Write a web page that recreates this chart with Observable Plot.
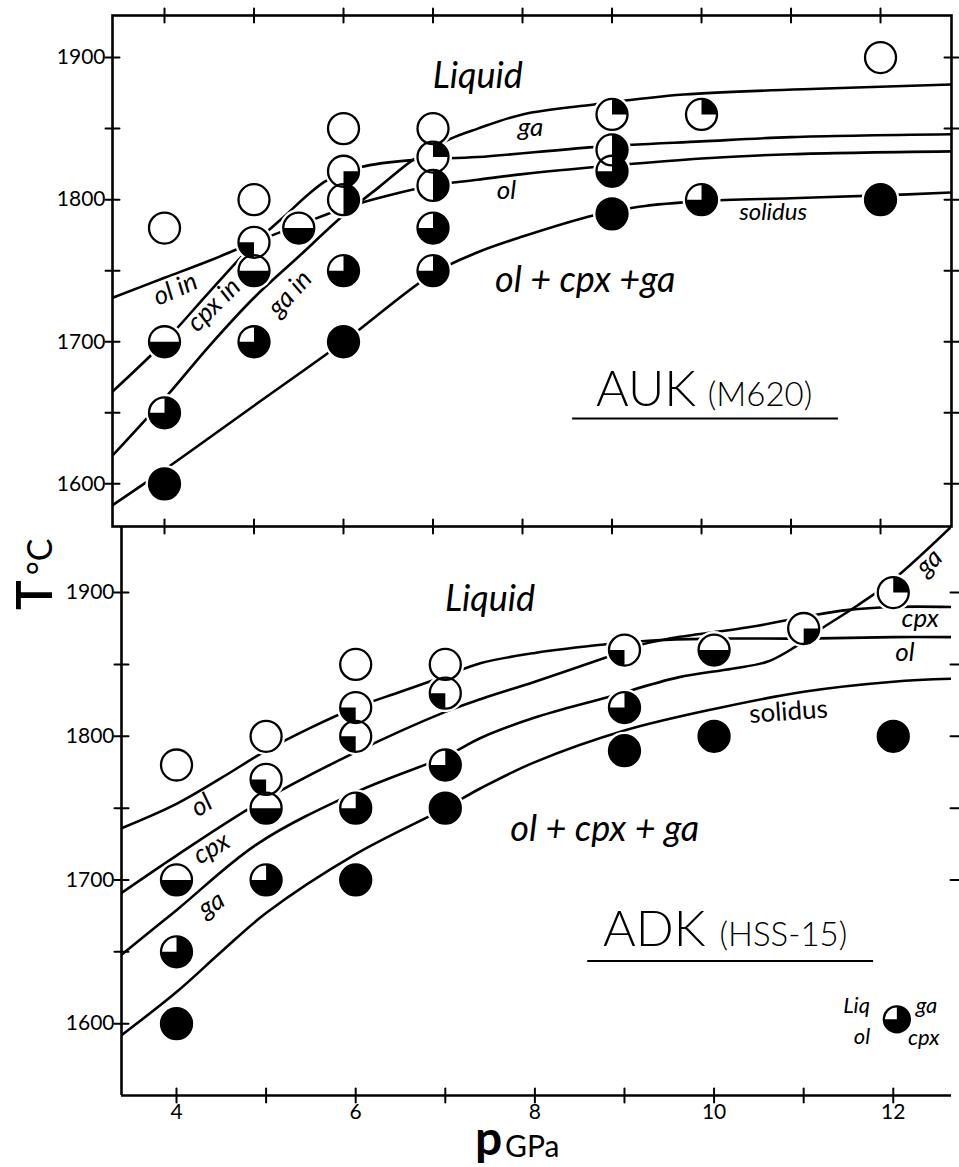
<!DOCTYPE html>
<html>
<head>
<meta charset="utf-8">
<script src="https://cdn.jsdelivr.net/npm/d3@7"></script>
<script src="https://cdn.jsdelivr.net/npm/@observablehq/plot@0.6"></script>
<style>
  html, body { margin: 0; padding: 0; background: #fff; }
  #wrap { position: relative; width: 959px; height: 1167px; overflow: hidden; background: #fff; }
  #top, #bot, #over { position: absolute; left: 0; }
  #top { top: 0; }
  #bot { top: 526px; }
  #over { top: 0; pointer-events: none; }
</style>
</head>
<body>
<div id="wrap">
  <div id="bot"></div>
  <div id="top"></div>
  <svg id="over" width="959" height="1167" font-family="Lato, 'DejaVu Sans', sans-serif">
    <text transform="translate(52,610) rotate(-90)"><tspan font-size="50" font-weight="600">T</tspan><tspan font-size="34" dx="5">°C</tspan></text>
    <text x="475" y="1155" font-size="48" font-weight="700">p</text>
    <text x="505" y="1157" font-size="30">GPa</text>
  </svg>
</div>
<script>
// ---------------- data ----------------
const pressureTicks = [4, 5, 6, 7, 8, 9, 10, 11, 12];
const pressureLabels = [4, 6, 8, 10, 12];
const tempTicks = [1600, 1650, 1700, 1750, 1800, 1850, 1900];
const tempLabels = [1600, 1700, 1800, 1900];

// AUK (M620) run products: pressure (GPa), temperature (°C), crystalline phases
const aukP = [4, 4, 4, 4, 5, 5, 5, 5, 5.5, 6, 6, 6, 6, 6, 7, 7, 7, 7, 7, 9, 9, 9, 9, 10, 10, 12, 12];
const aukT = [1780, 1700, 1650, 1600, 1800, 1770, 1750, 1700, 1780, 1850, 1820, 1800, 1750, 1700, 1850, 1830, 1810, 1780, 1750, 1860, 1835, 1820, 1790, 1860, 1800, 1900, 1800];
const aukPhases = ["liq", "ol+cpx", "ol+cpx+ga", "sub", "liq", "ol", "ol+cpx", "ol+cpx+ga", "ol+cpx",
  "liq", "cpx", "cpx+ga", "ol+cpx+ga", "sub", "liq", "ga", "cpx+ga", "ol+cpx+ga", "ol+cpx+ga",
  "ga", "cpx+ga", "ol+cpx+ga", "sub", "ga", "ol+cpx+ga", "liq", "sub"];

// AUK phase boundaries
const aukOlP = [3.42, 4.0, 4.5, 5.0, 5.5, 6.0, 6.5, 7.0, 7.5, 8.0, 9.0, 10.0, 11.0, 12.79];
const aukOlT = [1731, 1745, 1757, 1770, 1782, 1794, 1803, 1810, 1814, 1818, 1824, 1829, 1832, 1834];
const aukCpxP = [3.42, 4.0, 4.5, 5.0, 5.3, 5.8, 6.2, 6.8, 7.5, 8.8, 10.0, 11.0, 12.79];
const aukCpxT = [1665, 1700, 1735, 1769, 1786, 1813, 1823, 1828, 1830, 1837, 1841, 1844, 1846];
const aukGaP = [3.42, 4.0, 4.5, 5.0, 5.5, 6.0, 6.4, 6.8, 7.2, 7.5, 8.0, 8.8, 9.8, 11.3, 12.79];
const aukGaT = [1620, 1660, 1697, 1731, 1760, 1789, 1809, 1829, 1843, 1850, 1860, 1867, 1874, 1878, 1881];
const aukSolP = [3.42, 4.0, 5.0, 6.0, 7.0, 7.5, 8.0, 8.8, 9.3, 10.0, 11.0, 12.0, 12.79];
const aukSolT = [1585, 1610, 1655, 1700, 1748, 1763, 1774, 1789, 1795, 1799, 1801, 1803, 1805];

// ADK (HSS-15) run products
const adkP = [4, 4, 4, 4, 5, 5, 5, 5, 6, 6, 6, 6, 6, 7, 7, 7, 7, 9, 9, 9, 10, 10, 11, 12, 12];
const adkT = [1780, 1700, 1650, 1600, 1800, 1770, 1750, 1700, 1850, 1820, 1800, 1750, 1700, 1850, 1830, 1780, 1750, 1860, 1820, 1790, 1860, 1800, 1875, 1900, 1800];
const adkPhases = ["liq", "ol+cpx", "ol+cpx+ga", "sub", "liq", "ol", "ol+cpx", "ol+cpx+ga",
  "liq", "ol", "ol", "ol+cpx+ga", "sub", "liq", "ol", "ol+cpx+ga", "sub",
  "ol", "ol+cpx+ga", "sub", "ol+cpx", "sub", "cpx", "ga", "sub"];

// ADK phase boundaries
const adkOlP = [3.386, 4.0, 4.5, 5.0, 5.5, 6.0, 6.5, 7.0, 7.4, 8.0, 8.8, 9.4, 10.0, 11.0, 12.0, 12.65];
const adkOlT = [1736, 1753, 1771, 1790, 1806, 1820, 1831, 1842, 1851, 1858, 1864, 1867, 1868, 1868, 1869, 1869];
const adkCpxP = [3.386, 4.0, 4.9, 6.0, 7.0, 7.4, 8.0, 8.8, 9.2, 9.5, 10.4, 11.0, 11.5, 12.0, 12.65];
const adkCpxT = [1691, 1717, 1753, 1789, 1817, 1826, 1838, 1855, 1864, 1868, 1876, 1883, 1888, 1890, 1890];
const adkGaP = [3.386, 4.0, 4.9, 6.0, 7.0, 7.4, 8.0, 8.8, 9.6, 10.2, 10.6, 10.9, 11.2, 11.6, 12.0, 12.65];
const adkGaT = [1648, 1679, 1725, 1761, 1786, 1799, 1813, 1827, 1841, 1847, 1852, 1862, 1875, 1891, 1909, 1946];
const adkSolP = [3.386, 4.0, 4.5, 5.0, 6.0, 7.0, 7.4, 8.0, 9.0, 10.0, 11.0, 12.0, 12.65];
const adkSolT = [1592, 1622, 1650, 1677, 1718, 1750, 1764, 1782, 1804, 1819, 1831, 1838, 1840];

// legend key (Liq / ga / ol / cpx quarters)
const keyP = [12.04];
const keyT = [1603];
const keyPhases = ["ol+cpx+ga"];
const keyText = ["Liq", "ga", "ol", "cpx"];
const keyTextP = [11.59, 12.37, 11.65, 12.34];
const keyTextT = [1612, 1612, 1591, 1590];

// annotation texts (positions in data units)
const aukBigText = ["Liquid", "ol + cpx +ga"];
const aukBigP = [7.5, 8.7];
const aukBigT = [1887, 1743];
const aukSmallText = ["ga", "ol", "solidus", "ol in", "cpx in", "ga in"];
const aukSmallP = [8.09, 7.82, 10.8, 4.12, 4.55, 5.4];
const aukSmallT = [1851, 1806, 1791, 1737, 1726, 1734];
const aukSmallAngle = [0, 0, 0, -24, -45, -48];

const adkBigText = ["Liquid", "ol + cpx + ga"];
const adkBigP = [7.5, 8.78];
const adkBigT = [1895, 1735];
const adkSmallText = ["ol", "cpx", "ga", "ga", "cpx", "ol"];
const adkSmallP = [4.28, 4.39, 4.39, 12.4, 12.3, 12.13];
const adkSmallT = [1752, 1722, 1683, 1921, 1882, 1858];
const adkSmallAngle = [-32, -30, -33, -45, 0, 0];
const adkSolText = ["solidus"];
const adkSolP2 = [10.83];
const adkSolT2 = [1817];

// sample titles
const aukTitle = ["AUK", "(M620)"];
const aukTitleP = [8.82, 10.07];
const aukTitleT = 1655;
const aukRuleP = [8.56, 11.53];
const aukRuleT = 1646;
const adkTitle = ["ADK", "(HSS-15)"];
const adkTitleP = [8.76, 10.06];
const adkTitleT = 1654;
const adkRuleP = [8.59, 11.78];
const adkRuleT = 1643.6;

// ---------------- helpers ----------------
const FONT = "Lato, 'DejaVu Sans', sans-serif";
const LW = 2.6;

function table(P, T, Ph) { return P.map((p, i) => ({p, t: T[i], ph: Ph ? Ph[i] : null})); }

// black quarters: top-right = ga, bottom-left = ol, bottom-right = cpx; all black = below solidus
const quarterAngle = {ga: 1.5 * Math.PI, ol: 0.5 * Math.PI, cpx: 0};
function phaseSymbol(ph) {
  const full = ph === "sub";
  const angles = full ? [] : ph.split("+").filter(k => k in quarterAngle).map(k => quarterAngle[k]);
  return {
    draw(ctx, size) {
      const r = Math.sqrt(size / Math.PI);
      if (full) { ctx.moveTo(r, 0); ctx.arc(0, 0, r, 0, 2 * Math.PI); ctx.closePath(); return; }
      for (const a of angles) {
        ctx.moveTo(0, 0);
        ctx.lineTo(r * Math.cos(a), r * Math.sin(a));
        ctx.arc(0, 0, r, a, a + Math.PI / 2);
        ctx.closePath();
      }
    }
  };
}

function haloMarks(pts, r) {
  return Plot.dot(pts, {x: "p", y: "t", r: r + 3.5, fill: "white", stroke: "none"});
}
function dotMarks(pts, r) {
  const kinds = [...new Set(pts.map(d => d.ph))].filter(k => k !== "liq");
  return [
    Plot.dot(pts, {x: "p", y: "t", r, fill: "white", stroke: "none"}),
    ...kinds.map(k => Plot.dot(pts.filter(d => d.ph === k), {x: "p", y: "t", r, symbol: phaseSymbol(k), fill: "black", stroke: "none"})),
    Plot.dot(pts, {x: "p", y: "t", r, fill: "none", stroke: "black", strokeWidth: 2.3})
  ];
}

function curve(P, T) {
  return Plot.line(table(P, T), {x: "p", y: "t", curve: "catmull-rom", stroke: "black", strokeWidth: LW, clip: true});
}

const tickShape = {draw(ctx, l) { ctx.moveTo(0, 0); ctx.lineTo(0, -l); }};
function xTicks(anchor, len = 14) {
  return Plot.vectorX(pressureTicks, {x: d => d, frameAnchor: anchor, length: len, anchor: "middle", shape: tickShape, stroke: "black", strokeWidth: 2});
}
function yTicks(anchor, len = 14, dx = 0) {
  return Plot.vectorY(tempTicks, {y: d => d, frameAnchor: anchor, rotate: 90, length: len, anchor: "middle", shape: tickShape, stroke: "black", strokeWidth: 2, dx});
}
function yLabels() {
  return Plot.text(tempLabels, {y: d => d, frameAnchor: "left", textAnchor: "end", dx: -7, text: d => String(d), fontSize: 21, fontFamily: FONT});
}
function labels(T, P, Y, opts) {
  return Plot.text(T.map((_, i) => i), {x: i => P[i], y: i => Y[i], text: i => T[i], fontFamily: FONT, ...opts});
}

// ---------------- top panel: AUK ----------------
const aukXDomain = [3.419, 12.793];
const aukYDomain = [1570, 1929.6];
const aukPts = table(aukP, aukT, aukPhases);

const topPlot = Plot.plot({
  width: 959, height: 540,
  marginTop: 15, marginBottom: 14, marginLeft: 112, marginRight: 8,
  x: {domain: aukXDomain, axis: null},
  y: {domain: aukYDomain, axis: null},
  style: {overflow: "visible", background: "transparent", fontFamily: FONT},
  marks: [
    curve(aukOlP, aukOlT),
    curve(aukCpxP, aukCpxT),
    curve(aukGaP, aukGaT),
    curve(aukSolP, aukSolT),
    haloMarks(aukPts, 15.5),
    ...dotMarks(aukPts, 15.5),
    Plot.frame({stroke: "black", strokeWidth: LW}),
    xTicks("top"), xTicks("bottom"),
    yTicks("left"), yTicks("right"),
    yLabels(),
    labels(aukBigText, aukBigP, aukBigT, {fontSize: 36, fontStyle: "italic"}),
    labels(aukSmallText, aukSmallP, aukSmallT, {fontSize: i => aukSmallText[i] === "solidus" ? 24 : 26, fontStyle: "italic", rotate: i => aukSmallAngle[i]}),
    Plot.text([0], {x: aukTitleP[0], y: aukTitleT, text: () => aukTitle[0], textAnchor: "start", lineAnchor: "bottom", fontSize: 50, fontWeight: 300, fontFamily: FONT}),
    Plot.text([0], {x: aukTitleP[1], y: aukTitleT, text: () => aukTitle[1], textAnchor: "start", lineAnchor: "bottom", fontSize: 33, fontWeight: 300, fontFamily: FONT}),
    Plot.ruleY([aukRuleT], {x1: aukRuleP[0], x2: aukRuleP[1], stroke: "black", strokeWidth: 2.2})
  ]
});
document.getElementById("top").appendChild(topPlot);

// ---------------- bottom panel: ADK ----------------
const adkXDomain = [3.386, 12.65];
const adkYDomain = [1550, 1946];
const adkPts = table(adkP, adkT, adkPhases);
const keyPts = table(keyP, keyT, keyPhases);

const botPlot = Plot.plot({
  width: 959, height: 641,
  marginTop: 0, marginBottom: 72, marginLeft: 121, marginRight: 8,
  x: {domain: adkXDomain, axis: null},
  y: {domain: adkYDomain, axis: null},
  style: {overflow: "visible", background: "transparent", fontFamily: FONT},
  marks: [
    curve(adkOlP, adkOlT),
    curve(adkCpxP, adkCpxT),
    curve(adkGaP, adkGaT),
    curve(adkSolP, adkSolT),
    haloMarks(adkPts, 15.5),
    ...dotMarks(adkPts, 15.5),
    ...dotMarks(keyPts, 13),
    Plot.ruleX([adkXDomain[0]], {stroke: "black", strokeWidth: LW}),
    Plot.ruleY([adkYDomain[0]], {stroke: "black", strokeWidth: LW}),
    xTicks("bottom"),
    yTicks("left"),
    Plot.vectorY(tempTicks.filter(t => t >= 1700), {y: d => d, frameAnchor: "right", rotate: 90, length: 8, anchor: "middle", shape: tickShape, stroke: "black", strokeWidth: 2, dx: 3}),
    yLabels(),
    Plot.text(pressureLabels, {x: d => d, frameAnchor: "bottom", lineAnchor: "top", dy: 9, text: d => String(d), fontSize: 21, fontFamily: FONT}),
    labels(adkBigText, adkBigP, adkBigT, {fontSize: 36, fontStyle: "italic"}),
    labels(adkSmallText, adkSmallP, adkSmallT, {fontSize: 26, fontStyle: "italic", rotate: i => adkSmallAngle[i]}),
    labels(adkSolText, adkSolP2, adkSolT2, {fontSize: 26, rotate: -4}),
    labels(keyText, keyTextP, keyTextT, {fontSize: 22, fontStyle: "italic"}),
    Plot.text([0], {x: adkTitleP[0], y: adkTitleT, text: () => adkTitle[0], textAnchor: "start", lineAnchor: "bottom", fontSize: 50, fontWeight: 300, fontFamily: FONT}),
    Plot.text([0], {x: adkTitleP[1], y: adkTitleT, text: () => adkTitle[1], textAnchor: "start", lineAnchor: "bottom", fontSize: 33, fontWeight: 300, fontFamily: FONT}),
    Plot.ruleY([adkRuleT], {x1: adkRuleP[0], x2: adkRuleP[1], stroke: "black", strokeWidth: 2.2})
  ]
});
document.getElementById("bot").appendChild(botPlot);
</script>
</body>
</html>
